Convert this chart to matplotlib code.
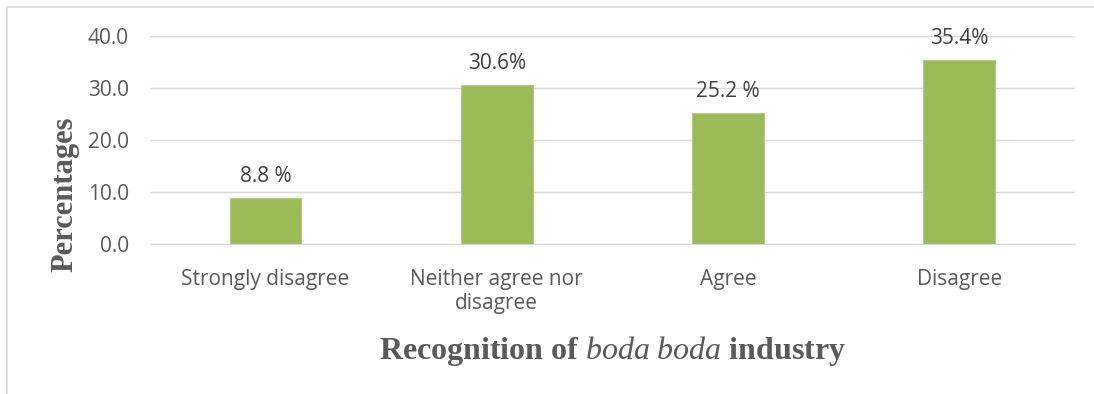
""" Bar chart of responses on recognition of the boda boda industry
"""
import matplotlib
matplotlib.use('Agg')
import matplotlib.pyplot as plt
from matplotlib.patches import Rectangle

categories = ['Strongly disagree', 'Neither agree nor\ndisagree', 'Agree', 'Disagree']
percentages = [8.8, 30.6, 25.2, 35.4]
value_labels = ['8.8 %', '30.6%', '25.2 %', '35.4%']
yticks = [0, 10, 20, 30, 40]

bar_color = '#9BBB59'
text_color = '#595959'
grid_color = '#D9D9D9'

plt.rcParams['font.family'] = ['Open Sans', 'DejaVu Sans']
plt.rcParams['mathtext.fontset'] = 'custom'
plt.rcParams['mathtext.it'] = 'Liberation Serif:italic'
plt.rcParams['mathtext.rm'] = 'Liberation Serif:bold'

fig = plt.figure(figsize=(10.94, 3.94), dpi=100)
ax = fig.add_axes([0.137, 0.3807, 0.8456, 0.528])

# chart area border (only top and left edges show)
fig.patches.append(Rectangle((7 / 1094, -0.1), 1.2, 1.1 - 7 / 394,
                             transform=fig.transFigure, fill=False,
                             edgecolor=grid_color, linewidth=1.2))

x = range(len(categories))
ax.bar(x, percentages, width=0.31, color=bar_color, edgecolor='#B4CC85',
       linewidth=0.8, zorder=3)

for xi, val, lab in zip(x, percentages, value_labels):
    ax.annotate(lab, (xi, val), xytext=(0, 8), textcoords='offset points',
                ha='center', va='bottom', fontsize=15, color='#404040')

ax.set_xlim(-0.5, len(categories) - 0.5)
ax.set_ylim(0, 40)
ax.set_yticks(yticks)
ax.set_yticklabels(['{:.1f}'.format(v) for v in yticks])
ax.set_xticks(list(x))
ax.set_xticklabels(categories)
ax.tick_params(axis='both', length=0, labelsize=15, labelcolor=text_color)
ax.tick_params(axis='x', pad=18)
ax.tick_params(axis='y', pad=15)

ax.grid(axis='y', color=grid_color, linewidth=1.0, zorder=0)
for side in ['top', 'right', 'left']:
    ax.spines[side].set_visible(False)
ax.spines['bottom'].set_color(grid_color)

fig.text(65 / 1094, 0.508, 'Percentages', rotation=90, ha='center', va='center',
         fontsize=22, fontweight='bold', family='Liberation Serif',
         color=text_color)
fig.text(0.5595, 0.108, r'Recognition of $boda\ boda$ industry', ha='center',
         va='center', fontsize=23, fontweight='bold', family='Liberation Serif',
         color=text_color)

plt.savefig('out.png', dpi=100)
plt.close()
